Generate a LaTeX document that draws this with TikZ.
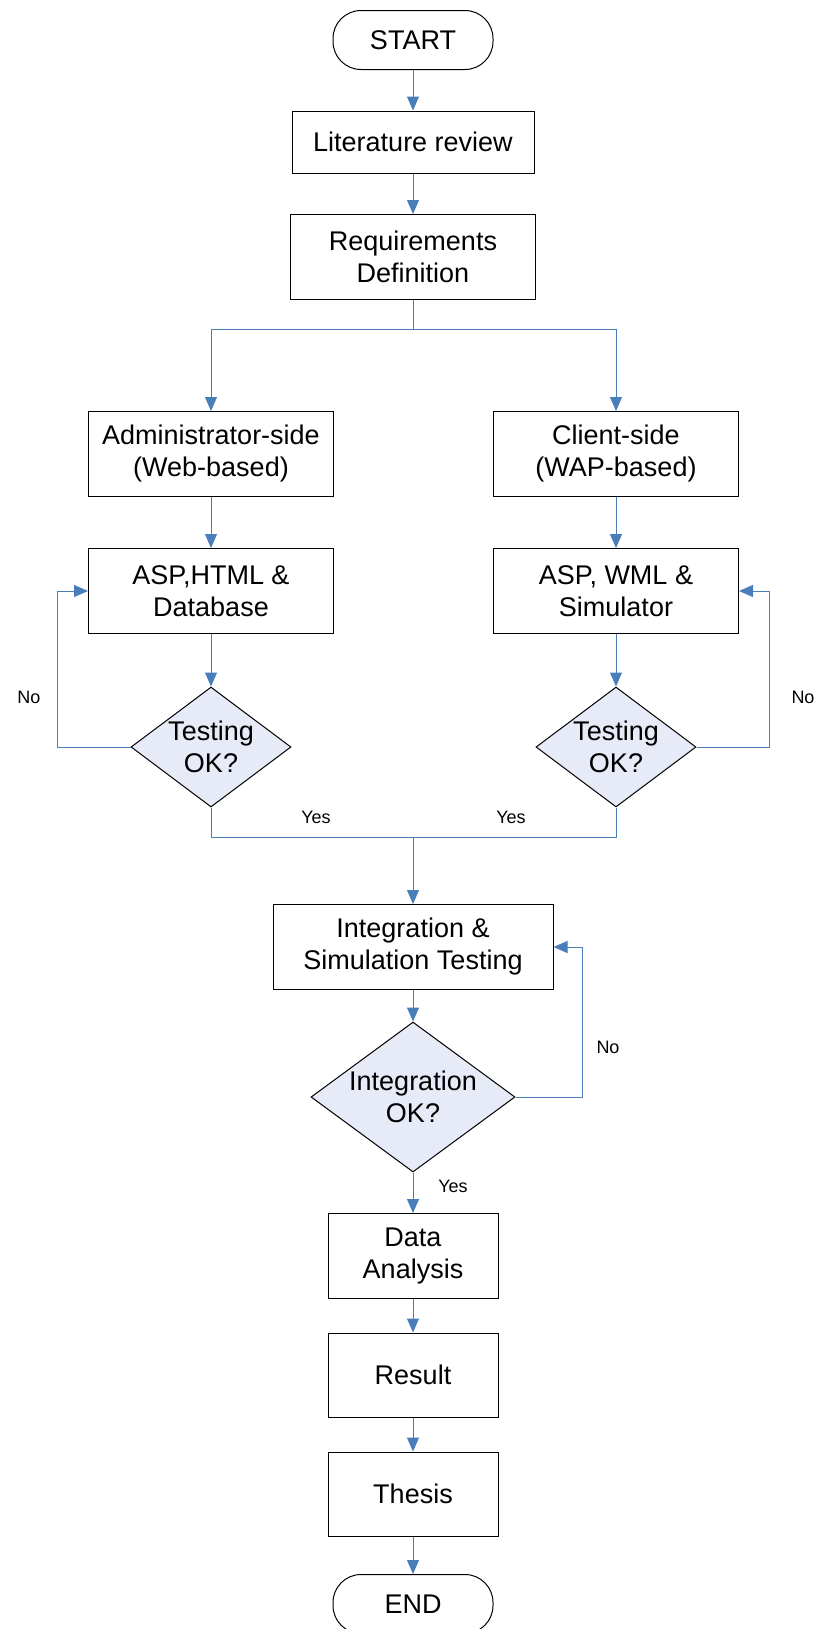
\documentclass[tikz,border=0pt]{standalone}
\usepackage{fontspec}
\setmainfont{Liberation Sans}
\usetikzlibrary{arrows.meta,shapes.geometric}
\definecolor{lnblue}{HTML}{4A7EBB}
\definecolor{dfill}{HTML}{E7EBF7}
\begin{document}
\begin{tikzpicture}[x=0.5pt,y=-0.5pt,
  box/.style={draw=black,line width=0.5pt,fill=white,align=center,font=\fontsize{13.5}{16}\selectfont,inner sep=0pt},
  term/.style={box,rounded corners=14pt},
  dia/.style={diamond,draw=black,line width=0.5pt,fill=dfill,inner sep=0pt},
  dtxt/.style={align=center,font=\fontsize{13.5}{16}\selectfont,inner sep=0pt},
  lbl/.style={font=\fontsize{9}{10}\selectfont,inner sep=0pt},
  ln/.style={draw=lnblue,line width=0.5pt},
  arr/.style={ln,-{Triangle[length=7pt,width=6pt]}}]
\useasboundingbox (0,0) rectangle (816,1629);

\node[term,minimum width=80pt,minimum height=29.5pt] (start) at (413,40) {START};
\node[box,minimum width=121pt,minimum height=31pt] (lit) at (413,142) {Literature review};
\node[box,minimum width=122.5pt,minimum height=42.5pt] (req) at (413,257) {Requirements\\Definition};
\node[box,minimum width=122.5pt,minimum height=42.5pt] (adm) at (211,454) {Administrator-side\\(Web-based)};
\node[box,minimum width=122.5pt,minimum height=42.5pt] (cli) at (616,454) {Client-side\\(WAP-based)};
\node[box,minimum width=122.5pt,minimum height=42.5pt] (asp1) at (211,591) {ASP,HTML \&\\Database};
\node[box,minimum width=122.5pt,minimum height=42.5pt] (asp2) at (616,591) {ASP, WML \&\\Simulator};
\node[dia,minimum width=80pt,minimum height=60pt] (t1) at (211,747) {};
\node[dtxt] (t1t) at (211,747) {Testing\\OK?};
\node[dia,minimum width=80pt,minimum height=60pt] (t2) at (616,747) {};
\node[dtxt] (t2t) at (616,747) {Testing\\OK?};
\node[box,minimum width=140pt,minimum height=42.5pt] (integ) at (413,947) {Integration \&\\Simulation Testing};
\node[dia,minimum width=102pt,minimum height=75pt] (iok) at (413,1097) {};
\node[dtxt] (iokt) at (413,1097) {Integration\\OK?};
\node[box,minimum width=85pt,minimum height=42.5pt] (data) at (413,1256) {Data\\Analysis};
\node[box,minimum width=85pt,minimum height=42pt] (res) at (413,1375) {Result};
\node[box,minimum width=85pt,minimum height=42pt] (thesis) at (413,1494) {Thesis};
\node[term,minimum width=80pt,minimum height=29.5pt] (end) at (413,1604) {END};

\coordinate (br) at (413,329);
\coordinate (mg) at (413,837);

\draw[arr] (start) -- (lit);
\draw[arr] (lit) -- (req);
\draw[ln] (req) -- (br);
\draw[arr] (br) -| (adm);
\draw[arr] (br) -| (cli);
\draw[arr] (adm) -- (asp1);
\draw[arr] (cli) -- (asp2);
\draw[arr] (asp1) -- (t1);
\draw[arr] (asp2) -- (t2);
\draw[arr] (t1.west) -- ++(-73,0) |- (asp1.west);
\draw[arr] (t2.east) -- ++(73,0) |- (asp2.east);
\draw[ln] (t1.south) |- (mg);
\draw[ln] (t2.south) |- (mg);
\draw[arr] (mg) -- (integ);
\draw[arr] (integ) -- (iok);
\draw[arr] (iok.east) -- ++(67,0) |- (integ.east);
\draw[arr] (iok) -- (data);
\draw[arr] (data) -- (res);
\draw[arr] (res) -- (thesis);
\draw[arr] (thesis) -- (end);

\node[lbl] (no1) at (29,697) {No};
\node[lbl] (no2) at (803,697) {No};
\node[lbl] (no3) at (608,1047) {No};
\node[lbl] (yes1) at (316,817) {Yes};
\node[lbl] (yes2) at (511,817) {Yes};
\node[lbl] (yes3) at (453,1186) {Yes};
\end{tikzpicture}
\end{document}
